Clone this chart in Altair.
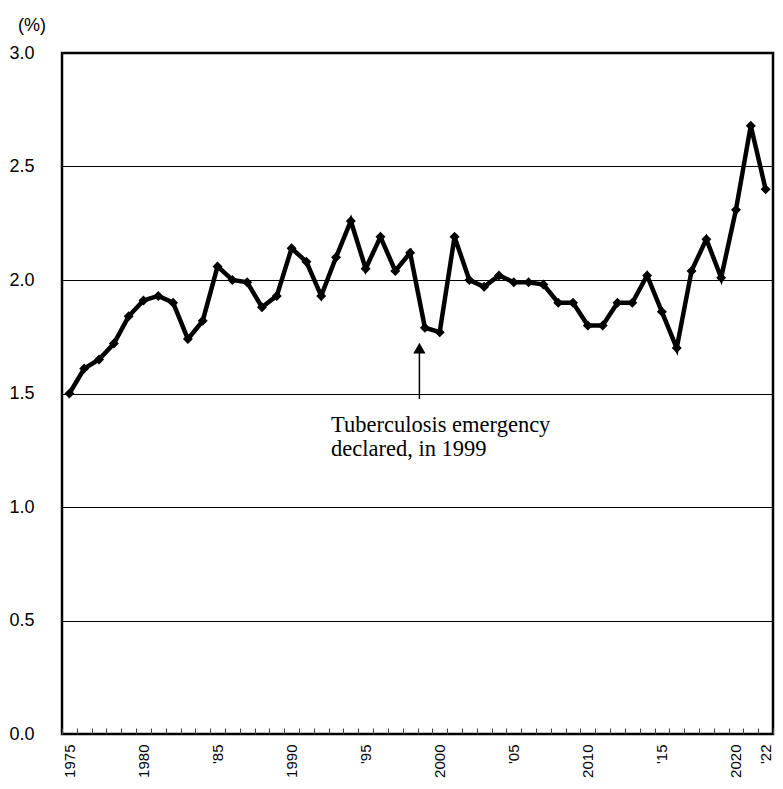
import altair as alt
import pandas as pd

years = list(range(1975, 2023))
rates = [1.50, 1.61, 1.65, 1.72, 1.84, 1.91, 1.93, 1.90, 1.74, 1.82,
         2.06, 2.00, 1.99, 1.88, 1.93, 2.14, 2.08, 1.93, 2.10, 2.26,
         2.05, 2.19, 2.04, 2.12, 1.79, 1.77, 2.19, 2.00, 1.97, 2.02,
         1.99, 1.99, 1.98, 1.90, 1.90, 1.80, 1.80, 1.90, 1.90, 2.02,
         1.86, 1.70, 2.04, 2.18, 2.01, 2.31, 2.68, 2.40]

label_years = [1975, 1980, 1985, 1990, 1995, 2000, 2005, 2010, 2015, 2020, 2022]
label_texts = ["1975", "1980", "'85", "1990", "'95", "2000", "'05", "2010", "'15", "2020", "'22"]
y_ticks = [0, 0.5, 1.0, 1.5, 2.0, 2.5, 3.0]

annot_year = 1999
annot_tail = 1.476
annot_head = 1.70
annot_text_year = 1993
annot_text_y = 1.33
annot_lines = ["Tuberculosis emergency", "declared, in 1999"]

df = pd.DataFrame({"year": years, "rate": rates})

lbl_expr = (
    "[" + ",".join("'" + t.replace("'", "\\'") + "'" for t in label_texts) + "]"
    + "[indexof([" + ",".join(str(y) for y in label_years) + "], datum.value)] || ''"
)

xscale = alt.Scale(type="band", paddingInner=0, paddingOuter=0, domain=years)

x_enc = alt.X(
    "year:O",
    scale=xscale,
    bandPosition=0.5,
    axis=alt.Axis(
        title=None,
        labelExpr=lbl_expr,
        labelAngle=270,
        labelFont="Liberation Sans",
        labelFontSize=15,
        labelColor="black",
        labelPadding=10,
        domain=False,
        ticks=True,
        tickSize=6,
        tickColor="#444444",
        tickWidth=1,
        tickBand="extent",
        offset=-6,
        grid=False,
        labelOverlap=False,
    ),
)

y_enc = alt.Y(
    "rate:Q",
    scale=alt.Scale(domain=[0, 3], nice=False, zero=True),
    axis=alt.Axis(
        title="(%)",
        titleAngle=0,
        titleAlign="center",
        titleBaseline="alphabetic",
        titleX=-30.5,
        titleY=-23,
        titleFont="Liberation Sans",
        titleFontSize=18,
        titleFontWeight="normal",
        titleColor="black",
        values=y_ticks,
        format=".1f",
        labelFont="Liberation Sans",
        labelFontSize=18,
        labelColor="black",
        labelPadding=28,
        ticks=False,
        domain=False,
        grid=True,
        gridColor="black",
        gridWidth=1,
    ),
)

line = alt.Chart(df).mark_line(color="black", strokeWidth=4.5).encode(x=x_enc, y=y_enc)
pts = alt.Chart(df).mark_point(shape="diamond", filled=True, color="black", size=100, opacity=1).encode(x=x_enc, y=y_enc)

arrow_df = pd.DataFrame({"year": [annot_year], "tail": [annot_tail], "head": [annot_head]})
arrow_line = alt.Chart(arrow_df).mark_rule(color="black", strokeWidth=1.5, xOffset=-5.5).encode(
    x=alt.X("year:O", scale=xscale, bandPosition=0.5),
    y=alt.Y("tail:Q"),
    y2="head:Q",
)
arrow_head = alt.Chart(arrow_df).mark_point(
    shape="triangle-up", filled=True, color="black", size=150, opacity=1, xOffset=-5.5
).encode(
    x=alt.X("year:O", scale=xscale, bandPosition=0.5),
    y=alt.Y("head:Q"),
)

text_df = pd.DataFrame({"year": [annot_text_year], "y": [annot_text_y], "t": [annot_lines]})
annot = alt.Chart(text_df).mark_text(
    align="left", baseline="alphabetic", dx=-5, font="Liberation Serif",
    fontSize=22.5, color="black", lineHeight=24,
).encode(
    x=alt.X("year:O", scale=xscale, bandPosition=0.5),
    y=alt.Y("y:Q"),
    text="t",
)

chart = alt.layer(line, pts, arrow_line, arrow_head, annot).properties(
    width=711, height=681,
    background="white",
    padding={"left": 0, "top": 8, "right": 0, "bottom": 0},
).configure_view(stroke="black", strokeWidth=2.5)

chart.save("out.html", embed_options={"renderer": "svg", "actions": False})
